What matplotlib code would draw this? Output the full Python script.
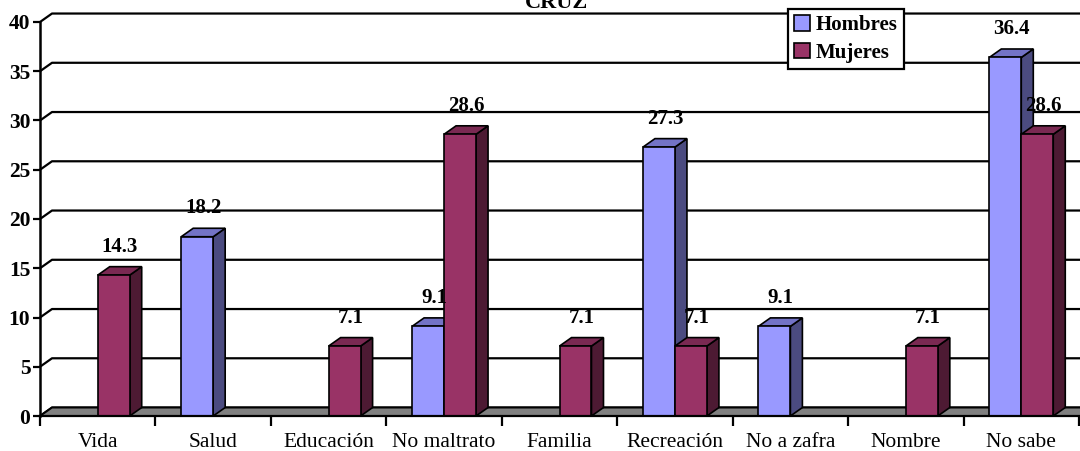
import numpy as np
import matplotlib.pyplot as plt
from matplotlib.patches import Polygon, Patch

plt.rcParams['font.family'] = ['Liberation Serif', 'DejaVu Serif']

# --- data ---
categories = ['Vida', 'Salud', 'Educación', 'No maltrato', 'Familia',
              'Recreación', 'No a zafra', 'Nombre', 'No sabe']
hombres = [0, 18.2, 0, 9.1, 0, 27.3, 9.1, 0, 36.4]
mujeres = [14.3, 0, 7.1, 28.6, 7.1, 7.1, 0, 7.1, 28.6]
series_names = ['Hombres', 'Mujeres']
yticks = [0, 5, 10, 15, 20, 25, 30, 35, 40]

# colours: front, side, top
H_COL = ('#9999FF', '#4B4B80', '#7373C6')
M_COL = ('#993366', '#4D1A33', '#7A2952')

# pseudo-3D depth offset (category units / value units)
DX = 0.104
DY = 0.86
BAR_W = 0.277

fig = plt.figure(figsize=(10.8, 4.51), dpi=100)
ax = fig.add_axes([40 / 1080, 35 / 451, 1039 / 1080, 394 / 451])
ax.set_xlim(0, 9)
ax.set_ylim(0, 40)

# back wall gridlines + left wall diagonals
for v in yticks:
    ax.plot([0, DX, 9 + DX + 0.2], [v, v + DY, v + DY], color='black',
            lw=1.6, clip_on=False, zorder=1, solid_capstyle='butt')

# floor
floor = Polygon([(0, 0), (9 + DX, 0), (9 + 2 * DX, DY), (DX, DY)],
                closed=True, facecolor='#808080', edgecolor='black', lw=1.4,
                clip_on=False, zorder=2)
ax.add_patch(floor)


def draw_bar(x0, v, cols):
    x1 = x0 + BAR_W
    kw = dict(closed=True, edgecolor='black', lw=1.2, clip_on=False, zorder=3)
    ax.add_patch(Polygon([(x1, 0), (x1 + DX, DY), (x1 + DX, v + DY), (x1, v)],
                         facecolor=cols[1], **kw))
    ax.add_patch(Polygon([(x0, v), (x1, v), (x1 + DX, v + DY), (x0 + DX, v + DY)],
                         facecolor=cols[2], **kw))
    ax.add_patch(Polygon([(x0, 0), (x1, 0), (x1, v), (x0, v)],
                         facecolor=cols[0], **kw))
    ax.text(x0 + BAR_W / 2 + DX / 2, v + DY + 1.0, f'{v:.1f}', ha='center',
            va='bottom', fontsize=15, fontweight='bold', zorder=4)


for i in range(len(categories)):
    c = i + 0.5
    if hombres[i] > 0:
        draw_bar(c - BAR_W, hombres[i], H_COL)
    if mujeres[i] > 0:
        draw_bar(c, mujeres[i], M_COL)

# axes styling
for s in ['top', 'right']:
    ax.spines[s].set_visible(False)
ax.spines['left'].set_linewidth(1.8)
ax.spines['bottom'].set_linewidth(1.6)
ax.spines['left'].set_zorder(5)
ax.spines['bottom'].set_zorder(5)

ax.set_yticks(yticks)
ax.set_yticklabels([str(t) for t in yticks], fontsize=15.5, fontweight='bold')
ax.tick_params(axis='y', length=5, width=1.6, pad=2)

ax.set_xticks(np.arange(0, 10))
ax.set_xticklabels([])
ax.tick_params(axis='x', which='major', length=7, width=1.6)
ax.set_xticks(np.arange(len(categories)) + 0.5, minor=True)
ax.set_xticklabels(categories, minor=True, fontsize=15.5)
ax.tick_params(axis='x', which='minor', length=0, pad=12)

ax.patch.set_visible(False)

# title (partially cut at top in the original)
fig.text(556 / 1080, 1 - 8 / 451, 'CRUZ', ha='center', va='baseline',
         fontsize=16, fontweight='bold')

handles = [Patch(facecolor=H_COL[0], edgecolor='black', lw=1.2),
           Patch(facecolor=M_COL[0], edgecolor='black', lw=1.2)]
leg = fig.legend(handles, series_names, loc='upper left',
                 bbox_to_anchor=(788 / 1080, 1 - 9 / 451),
                 prop={'size': 15, 'weight': 'bold'}, fancybox=False,
                 edgecolor='black', framealpha=1, handlelength=0.75,
                 handleheight=0.75, handletextpad=0.3, borderpad=0.3,
                 labelspacing=0.35, borderaxespad=0)
leg.get_frame().set_linewidth(1.6)
leg.set_zorder(10)

fig.savefig('out.png', dpi=100)
